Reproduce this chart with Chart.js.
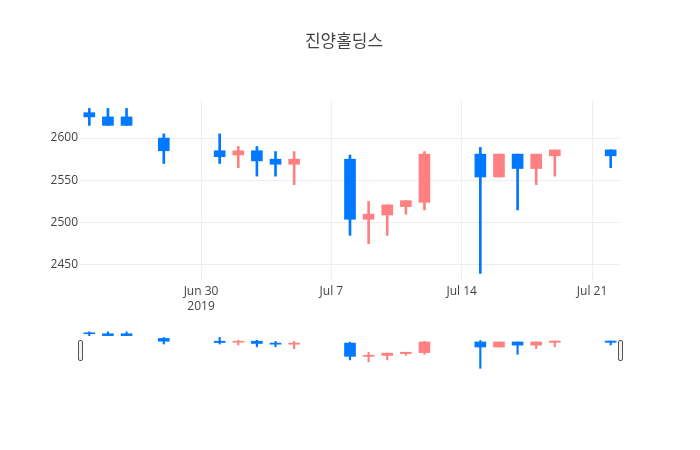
<!DOCTYPE html>
<html>
<head>
<meta charset="utf-8">
<script src="https://cdn.jsdelivr.net/npm/chart.js@4.4.1/dist/chart.umd.min.js"></script>
<style>
  html, body { margin: 0; padding: 0; background: #fff; }
  #wrap { position: relative; width: 700px; height: 450px; }
  #mainBox { position: absolute; left: 0; top: 0; width: 700px; height: 320px; }
  #sliderBox { position: absolute; left: 0; top: 330px; width: 700px; height: 40px; }
</style>
</head>
<body>
<div id="wrap">
  <div id="mainBox"><canvas id="main"></canvas></div>
  <div id="sliderBox"><canvas id="slider"></canvas></div>
</div>
<script>
const chartTitle = '진양홀딩스';
const dates = ['2019-06-24','2019-06-25','2019-06-26','2019-06-28','2019-07-01','2019-07-02','2019-07-03','2019-07-04','2019-07-05','2019-07-08','2019-07-09','2019-07-10','2019-07-11','2019-07-12','2019-07-15','2019-07-16','2019-07-17','2019-07-18','2019-07-19','2019-07-22'];
const openValues  = [2630,2625,2625,2600,2585,2580,2585,2575,2569,2575,2504,2509,2519,2524,2581,2554,2581,2564,2579,2586];
const highValues  = [2635,2635,2635,2605,2605,2590,2590,2584,2584,2580,2525,2521,2526,2584,2589,2581,2581,2581,2586,2586];
const lowValues   = [2615,2615,2615,2570,2570,2565,2555,2555,2545,2485,2475,2485,2510,2515,2440,2554,2515,2545,2555,2565];
const closeValues = [2625,2615,2615,2585,2578,2585,2573,2569,2575,2504,2510,2521,2526,2581,2554,2581,2564,2581,2586,2579];
const xTickDates = ['2019-06-30','2019-07-07','2019-07-14','2019-07-21'];
const xTickLabels = [['Jun 30','2019'],'Jul 7','Jul 14','Jul 21'];
const yTickValues = [2450,2500,2550,2600];
const xRangeDates = ['2019-06-23T12:00','2019-07-22T12:00'];
const yRange = [2431,2645];

const UP = 'rgb(255,128,128)';
const DOWN = 'rgb(0,120,255)';
const baseDay = Date.UTC(2019,5,30);
function dayOf(s){
  const [d,t] = s.split('T');
  const [Y,M,D] = d.split('-').map(Number);
  let h = 0;
  if (t) h = Number(t.split(':')[0]);
  return (Date.UTC(Y,M-1,D,h) - baseDay)/86400000;
}
const xs = dates.map(dayOf);
const colorAt = (ctx) => {
  const i = ctx.dataIndex;
  return closeValues[i] >= openValues[i] ? UP : DOWN;
};
const xTickVals = xTickDates.map(dayOf);

Chart.defaults.font.family = "'Open Sans', 'Noto Sans CJK KR', sans-serif";
Chart.defaults.color = '#444';

function datasets(bodyW, wickW){
  return [
    {
      label: 'body',
      data: xs.map((x,i)=>({x:x, y:[openValues[i], closeValues[i]]})),
      backgroundColor: colorAt,
      borderWidth: 0,
      barThickness: bodyW,
      grouped: false,
      order: 0
    },
    {
      label: 'wick',
      data: xs.map((x,i)=>({x:x, y:[lowValues[i], highValues[i]]})),
      backgroundColor: colorAt,
      borderWidth: 0,
      barThickness: wickW,
      grouped: false,
      order: 1
    }
  ];
}

new Chart(document.getElementById('main'), {
  type: 'bar',
  data: { datasets: datasets(11, 2) },
  options: {
    responsive: true,
    maintainAspectRatio: false,
    animation: false,
    layout: { padding: { left: 0, right: 12, top: 0, bottom: 0 } },
    plugins: {
      legend: { display: false },
      tooltip: { enabled: false },
      title: {
        display: true,
        text: chartTitle,
        color: '#444',
        font: { size: 17, weight: 'normal', lineHeight: 1.2 },
        padding: { top: 31.5, bottom: 48.1 }
      }
    },
    scales: {
      x: {
        type: 'linear',
        offset: false,
        bounds: 'ticks',
        min: dayOf(xRangeDates[0]),
        max: dayOf(xRangeDates[1]),
        afterBuildTicks: (s) => { s.ticks = xTickVals.map(v=>({value:v})); },
        afterFit: (s) => { s.height = 39; },
        grid: { color: '#eee', drawTicks: false, lineWidth: 1, offset: false },
        border: { display: false },
        ticks: {
          padding: 3,
          color: '#444',
          font: { size: 12, lineHeight: 1.25 },
          maxRotation: 0,
          autoSkip: false,
          callback: (v) => { const k = xTickVals.indexOf(v); return k >= 0 ? xTickLabels[k] : ''; }
        }
      },
      y: {
        type: 'linear',
        position: 'left',
        min: yRange[0],
        max: yRange[1],
        afterBuildTicks: (s) => { s.ticks = yTickValues.map(v=>({value:v})); },
        afterFit: (s) => { s.width = 80; },
        grid: { color: '#eee', drawTicks: false, lineWidth: 1 },
        border: { display: false },
        ticks: { padding: 2, color: '#444', font: { size: 12 }, callback: (v) => String(v) }
      },
      yRight: {
        type: 'linear',
        position: 'right',
        min: yRange[0],
        max: yRange[1],
        afterFit: (s) => { s.width = 68; },
        grid: { display: false, drawTicks: false },
        border: { display: false },
        ticks: { display: false }
      }
    }
  }
});

const handlesPlugin = {
  id: 'handles',
  afterDraw(chart){
    const a = chart.chartArea;
    const ctx = chart.ctx;
    const h = 20, w = 4;
    const cy = (a.top + a.bottom)/2;
    ctx.save();
    ctx.fillStyle = '#f2f2f2';
    ctx.strokeStyle = '#555';
    ctx.lineWidth = 1;
    [a.left, a.right].forEach(x => {
      const x0 = Math.round(x - 2.5) + 0.5;
      const y0 = Math.round(cy - h/2) + 0.5;
      ctx.beginPath();
      if (ctx.roundRect) ctx.roundRect(x0, y0, w, h, 1.5); else ctx.rect(x0, y0, w, h);
      ctx.fill();
      ctx.stroke();
    });
    ctx.restore();
  }
};

new Chart(document.getElementById('slider'), {
  type: 'bar',
  data: { datasets: datasets(11, 1.5) },
  plugins: [handlesPlugin],
  options: {
    responsive: true,
    maintainAspectRatio: false,
    animation: false,
    layout: { padding: { left: 80, right: 80, top: 0, bottom: 0 } },
    plugins: { legend: { display: false }, tooltip: { enabled: false }, title: { display: false } },
    scales: {
      x: { type: 'linear', display: false, offset: false, min: dayOf(xRangeDates[0]), max: dayOf(xRangeDates[1]) },
      y: { type: 'linear', display: false, min: yRange[0], max: yRange[1] }
    }
  }
});
</script>
</body>
</html>
